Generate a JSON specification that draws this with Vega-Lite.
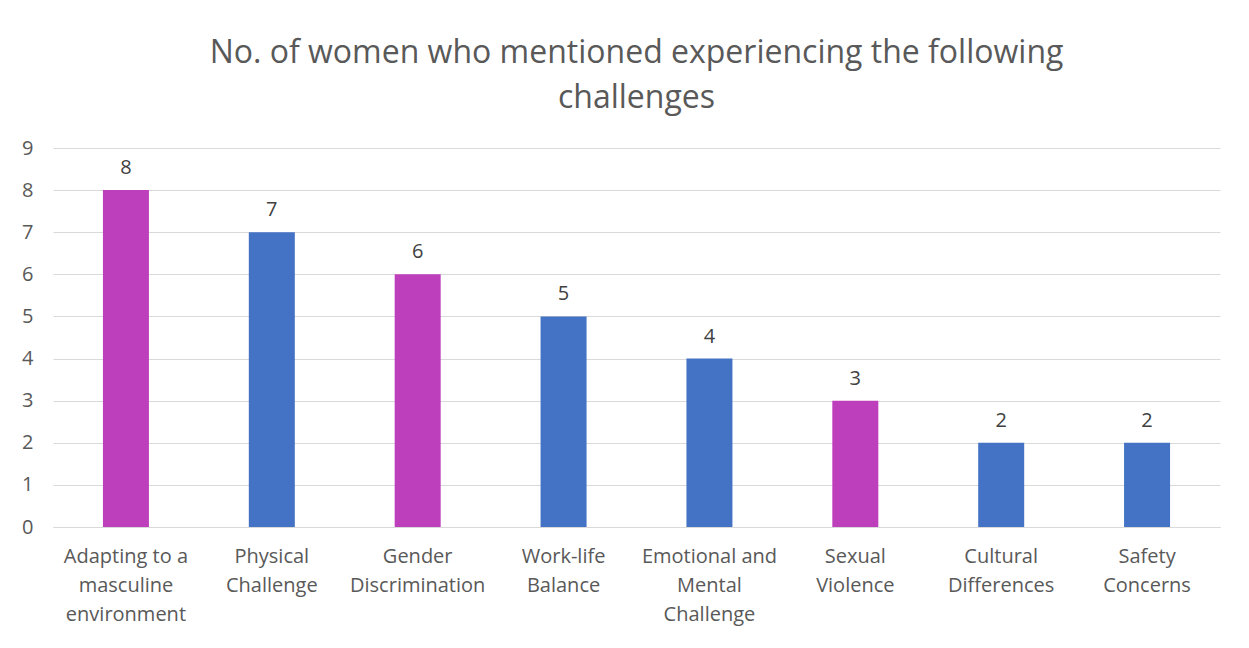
{
  "$schema": "https://vega.github.io/schema/vega-lite/v6.json",
  "width": 1167,
  "height": 379,
  "autosize": {"type": "none"},
  "padding": {"left": 53, "top": 148, "right": 29, "bottom": 121},
  "background": "white",
  "title": {
    "text": ["No. of women who mentioned experiencing the following", "challenges"],
    "font": "Open Sans",
    "fontSize": 32,
    "fontWeight": "normal",
    "color": "#595959",
    "lineHeight": 45,
    "anchor": "middle",
    "offset": 23
  },
  "data": {
    "values": [
      {"challenge": "Adapting to a masculine environment", "count": 8, "group": "gender"},
      {"challenge": "Physical Challenge", "count": 7, "group": "other"},
      {"challenge": "Gender Discrimination", "count": 6, "group": "gender"},
      {"challenge": "Work-life Balance", "count": 5, "group": "other"},
      {"challenge": "Emotional and Mental Challenge", "count": 4, "group": "other"},
      {"challenge": "Sexual Violence", "count": 3, "group": "gender"},
      {"challenge": "Cultural Differences", "count": 2, "group": "other"},
      {"challenge": "Safety Concerns", "count": 2, "group": "other"}
    ]
  },
  "encoding": {
    "x": {
      "field": "challenge",
      "type": "nominal",
      "sort": null,
      "title": null,
      "scale": {"paddingInner": 0.685, "paddingOuter": 0.3425},
      "axis": {
        "labelAngle": 0,
        "labelFont": "Open Sans",
        "labelFontSize": 20,
        "labelColor": "#595959",
        "labelLineHeight": 29,
        "labelPadding": 19,
        "ticks": false,
        "domainColor": "#d9d9d9",
        "domainWidth": 1,
        "labelExpr": "{'Adapting to a masculine environment': ['Adapting to a', 'masculine', 'environment'], 'Physical Challenge': ['Physical', 'Challenge'], 'Gender Discrimination': ['Gender', 'Discrimination'], 'Work-life Balance': ['Work-life', 'Balance'], 'Emotional and Mental Challenge': ['Emotional and', 'Mental', 'Challenge'], 'Sexual Violence': ['Sexual', 'Violence'], 'Cultural Differences': ['Cultural', 'Differences'], 'Safety Concerns': ['Safety', 'Concerns']}[datum.value]"
      }
    },
    "y": {
      "field": "count",
      "type": "quantitative",
      "title": null,
      "scale": {"domain": [0, 9], "nice": false},
      "axis": {
        "values": [0, 1, 2, 3, 4, 5, 6, 7, 8, 9],
        "labelOverlap": false,
        "labelFont": "Open Sans",
        "labelFontSize": 20,
        "labelColor": "#595959",
        "labelPadding": 20,
        "ticks": false,
        "domain": false,
        "gridColor": "#d9d9d9",
        "gridWidth": 1
      }
    }
  },
  "layer": [
    {
      "mark": {"type": "bar", "width": 46},
      "encoding": {
        "color": {
          "field": "group",
          "type": "nominal",
          "scale": {"domain": ["gender", "other"], "range": ["#BE3FBC", "#4472C4"]},
          "legend": null
        }
      }
    },
    {
      "mark": {"type": "text", "dy": -22, "font": "Open Sans", "fontSize": 20, "color": "#404040"},
      "encoding": {"text": {"field": "count", "type": "quantitative"}}
    }
  ],
  "config": {"view": {"stroke": null}}
}
